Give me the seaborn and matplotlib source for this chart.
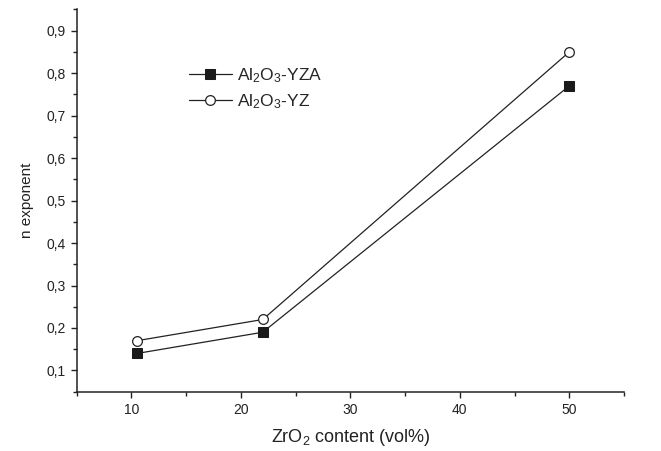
import matplotlib
matplotlib.use("Agg")
import matplotlib.pyplot as plt
import seaborn as sns
import pandas as pd
from matplotlib.ticker import MultipleLocator, FuncFormatter

zro2 = [10.5, 22, 50]
yza = [0.14, 0.19, 0.77]
yz = [0.17, 0.22, 0.85]
series_names = [r"Al$_2$O$_3$-YZA", r"Al$_2$O$_3$-YZ"]
x_ticks = [10, 20, 30, 40, 50]
y_ticks = [0.1, 0.2, 0.3, 0.4, 0.5, 0.6, 0.7, 0.8, 0.9]

sns.set_style("ticks")
plt.rcParams["font.family"] = ["Liberation Sans", "DejaVu Sans"]
plt.rcParams["mathtext.fontset"] = "custom"
plt.rcParams["mathtext.rm"] = "Liberation Sans"
plt.rcParams["mathtext.default"] = "regular"

df = pd.DataFrame({
    "x": zro2 * 2,
    "y": yza + yz,
    "s": [series_names[0]] * 3 + [series_names[1]] * 3,
})

fig = plt.figure(figsize=(6.61, 4.51), dpi=100)
ax = fig.add_axes([0.116, 0.1315, 0.828, 0.8475])

sns.lineplot(data=df[df.s == series_names[0]], x="x", y="y", ax=ax,
             color="#222222", lw=0.9, marker="s", markersize=6.5,
             markerfacecolor="#1a1a1a", markeredgecolor="#1a1a1a",
             label=series_names[0])
sns.lineplot(data=df[df.s == series_names[1]], x="x", y="y", ax=ax,
             color="#222222", lw=0.9, marker="o", markersize=7,
             markerfacecolor="white", markeredgecolor="#222222",
             markeredgewidth=0.9, label=series_names[1])

ax.set_xlim(5, 55)
ax.set_ylim(0.05, 0.95)
ax.set_xticks(x_ticks)
ax.set_yticks(y_ticks)
ax.xaxis.set_minor_locator(MultipleLocator(5))
ax.yaxis.set_minor_locator(MultipleLocator(0.05))
ax.yaxis.set_major_formatter(FuncFormatter(lambda v, p: f"{v:.1f}".replace(".", ",")))
ax.tick_params(which="major", direction="out", length=4.5, width=1, labelsize=10, colors="#222222")
ax.tick_params(which="minor", direction="out", length=3, width=1, colors="#222222")
for s in ["top", "right"]:
    ax.spines[s].set_visible(False)
for s in ["left", "bottom"]:
    ax.spines[s].set_color("#222222")
    ax.spines[s].set_linewidth(1.1)

ax.set_xlabel(r"ZrO$_2$ content (vol%)", fontsize=13, color="#222222", labelpad=7)
ax.set_ylabel("n exponent", fontsize=11, color="#222222", labelpad=8.5)

leg = ax.legend(loc="upper left", bbox_to_anchor=(0.192, 0.869), frameon=False,
                fontsize=12.5, handlelength=2.47, handletextpad=0.3, labelspacing=0.4,
                borderaxespad=0)

fig.savefig("out.png", dpi=100)
